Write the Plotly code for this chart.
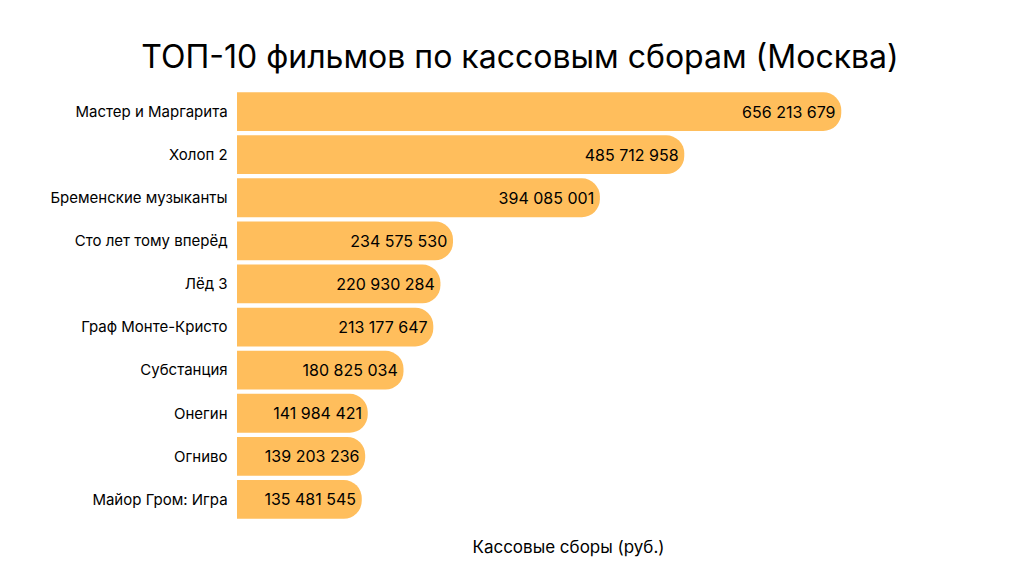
import plotly.graph_objects as go

films = ["Мастер и Маргарита", "Холоп 2", "Бременские музыканты", "Сто лет тому вперёд",
         "Лёд 3", "Граф Монте-Кристо", "Субстанция", "Онегин", "Огниво", "Майор Гром: Игра"]
revenue = [656213679, 485712958, 394085001, 234575530, 220930284,
           213177647, 180825034, 141984421, 139203236, 135481545]
labels = [f"{v:,}".replace(",", " ") for v in revenue]

fig = go.Figure(go.Bar(
    x=revenue, y=films, orientation="h",
    marker=dict(color="#FFBE5C", line=dict(width=0)),
    text=labels, textposition="inside", insidetextanchor="end",
    textfont=dict(color="black", size=16, family="Inter"),
))
fig.update_layout(
    width=1024, height=576,
    paper_bgcolor="white", plot_bgcolor="white",
    font=dict(family="Inter", color="black"),
    title=dict(text="ТОП-10 фильмов по кассовым сборам (Москва)", x=0.5, xanchor="center",
               y=0.915, yanchor="middle", font=dict(size=32, color="black")),
    margin=dict(l=229, r=132, t=82, b=63),
    bargap=0.1, barcornerradius=18,
    showlegend=False,
    xaxis=dict(range=[0, 720e6], showticklabels=False, showgrid=False, zeroline=False,
               title=dict(text="Кассовые сборы (руб.)", font=dict(size=17), standoff=20)),
    yaxis=dict(autorange="reversed", showgrid=False, zeroline=False, automargin=False,
               tickfont=dict(size=15), ticksuffix="  "),
)
fig.write_html("out.html")
